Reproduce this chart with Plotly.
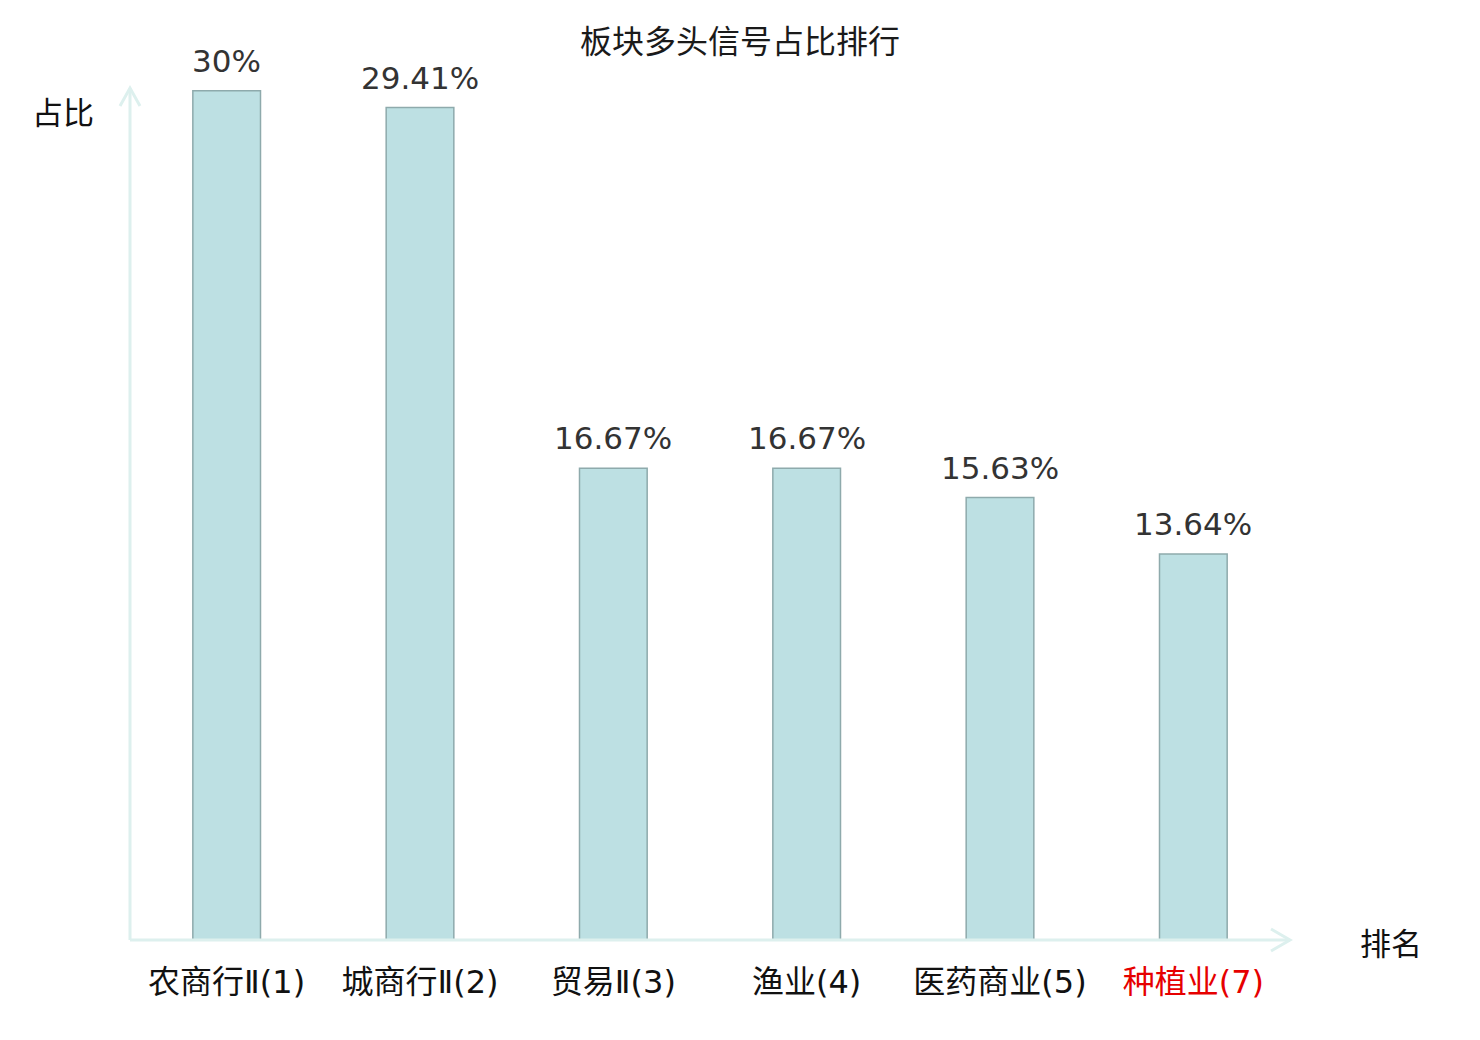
import plotly.graph_objects as go

title_text = "板块多头信号占比排行"
categories = ["农商行Ⅱ(1)", "城商行Ⅱ(2)", "贸易Ⅱ(3)", "渔业(4)", "医药商业(5)", "种植业(7)"]
values = [30, 29.41, 16.67, 16.67, 15.63, 13.64]
highlight = ["种植业(7)"]
y_axis_name = "占比"
x_axis_name = "排名"

ticktext = [f"<span style='color:#e60000'>{c}</span>" if c in highlight else c for c in categories]
labels = [f"{v:g}%" for v in values]

FONT = "DejaVu Sans, Noto Sans CJK SC, sans-serif"
CJK = "Noto Sans CJK SC, sans-serif"
AXIS_COLOR = "#ddf0ee"

fig = go.Figure(go.Bar(
    x=categories,
    y=values,
    marker=dict(color="#bde0e3", line=dict(color="#8eaaac", width=1.5)),
    hoverinfo="skip",
))

OFF = 8  # page body margin
W, H = 1480 - OFF, 1040 - OFF
L, T = 130 - OFF, 88 - OFF
pw, ph = 1160, 852
R, B = W - L - pw, H - T - ph


def px(x):
    return (x - OFF - L) / pw


def py(y):
    return (T + ph - (y - OFF)) / ph


shapes = [
    dict(type="line", xref="paper", yref="paper", x0=0, y0=0, x1=1, y1=0,
         line=dict(color=AXIS_COLOR, width=3)),
    dict(type="line", xref="paper", yref="paper", x0=0, y0=0, x1=0, y1=1,
         line=dict(color=AXIS_COLOR, width=3)),
    dict(type="path", xref="paper", yref="paper",
         path=f"M {px(120)},{py(106)} L {px(130)},{py(88)} L {px(140)},{py(106)}",
         line=dict(color=AXIS_COLOR, width=3)),
    dict(type="path", xref="paper", yref="paper",
         path=f"M {px(1271)},{py(929)} L {px(1290)},{py(940)} L {px(1271)},{py(951)}",
         line=dict(color=AXIS_COLOR, width=3)),
]

annotations = [
    dict(text=y_axis_name, xref="paper", yref="paper", x=px(63), y=py(110),
         xanchor="center", yanchor="middle",
         showarrow=False, font=dict(size=31, color="#111111", family=CJK)),
    dict(text=x_axis_name, xref="paper", yref="paper", x=px(1391), y=py(941),
         xanchor="center", yanchor="middle",
         showarrow=False, font=dict(size=31, color="#111111", family=CJK)),
]
for c, v, t in zip(categories, values, labels):
    annotations.append(dict(
        text=t, x=c, y=v, xref="x", yref="y", xanchor="center", yanchor="bottom",
        yshift=10, showarrow=False,
        font=dict(size=31, color="#333333", family=FONT),
    ))

fig.update_layout(
    width=W, height=H,
    margin=dict(l=L, r=R, t=T, b=B),
    paper_bgcolor="white", plot_bgcolor="white",
    showlegend=False,
    bargap=0.65,
    title=dict(text=title_text, x=(740 - OFF) / W, xanchor="center",
               y=1 - (42 - OFF) / H, yanchor="middle",
               font=dict(size=32, color="#1a1a1a", family=CJK)),
    font=dict(family=FONT),
    shapes=shapes,
    annotations=annotations,
)
fig.update_xaxes(
    tickmode="array", tickvals=categories, ticktext=ticktext,
    showline=False, showgrid=False, zeroline=False,
    ticks="outside", ticklen=14, tickcolor="rgba(0,0,0,0)",
    tickfont=dict(size=32, color="#111111", family=FONT),
)
fig.update_yaxes(
    range=[0, 30.1], showline=False, showgrid=False, zeroline=False,
    showticklabels=False,
)

fig.write_html("out.html")
